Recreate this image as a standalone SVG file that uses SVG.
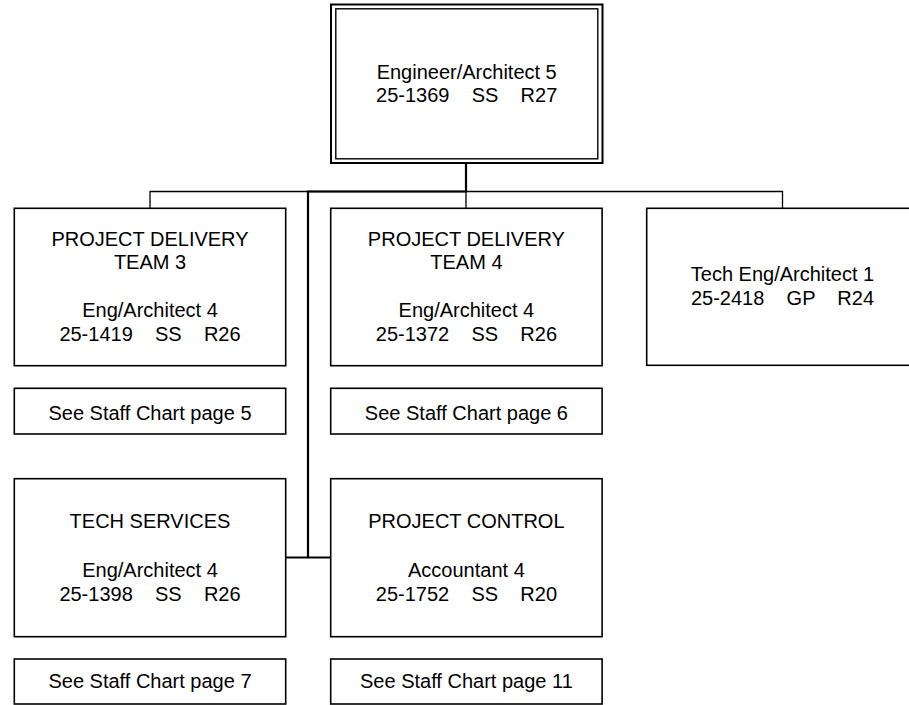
<svg xmlns="http://www.w3.org/2000/svg" width="909" height="705" viewBox="0 0 909 705">
<style>
.box{fill:#fff;stroke:#000;stroke-width:1.6}
.t{font-family:"Liberation Sans",Arial,sans-serif;font-size:20px;fill:#000;text-anchor:middle;white-space:pre}
.thin{fill:none;stroke:#000;stroke-width:1.3}
.thick{fill:none;stroke:#000;stroke-width:2.2}
</style>
<rect width="909" height="705" fill="#fff"/>
<g id="connectors">
<path class="thin" d="M150,191.5 H782.5 M150,191 V208.3 M466,191 V208.3 M782.5,191 V208.3"/>
<path class="thick" d="M466,163 V191.5 H308 V557.5"/>
<path class="thick" style="stroke-width:1.8" d="M285.7,557.5 H330.7"/>
</g>
<g id="top">
<rect class="box" x="331" y="4.5" width="271.5" height="158.5" style="stroke-width:2"/>
<rect class="box" x="335.8" y="8.8" width="262" height="150" style="stroke-width:1.4"/>
<text class="t" x="466.7" y="79" xml:space="preserve">Engineer/Architect 5</text>
<text class="t" x="466.7" y="101.7" xml:space="preserve">25-1369    SS    R27</text>
</g>
<g id="pdt3">
<rect class="box" x="14.3" y="208.3" width="271.4" height="157.4"/>
<text class="t" x="150" y="245.7" xml:space="preserve">PROJECT DELIVERY</text>
<text class="t" x="150" y="269.3" xml:space="preserve">TEAM 3</text>
<text class="t" x="150" y="316.7" xml:space="preserve">Eng/Architect 4</text>
<text class="t" x="150" y="341" xml:space="preserve">25-1419    SS    R26</text>
</g>
<g id="pdt3-note">
<rect class="box" x="14.3" y="388.3" width="271.4" height="45.7"/>
<text class="t" x="150" y="420" xml:space="preserve">See Staff Chart page 5</text>
</g>
<g id="pdt4">
<rect class="box" x="330.7" y="208.3" width="271.4" height="157.4"/>
<text class="t" x="466.4" y="245.7" xml:space="preserve">PROJECT DELIVERY</text>
<text class="t" x="466.4" y="269.3" xml:space="preserve">TEAM 4</text>
<text class="t" x="466.4" y="316.7" xml:space="preserve">Eng/Architect 4</text>
<text class="t" x="466.4" y="341" xml:space="preserve">25-1372    SS    R26</text>
</g>
<g id="pdt4-note">
<rect class="box" x="330.7" y="388.3" width="271.4" height="45.7"/>
<text class="t" x="466.4" y="420" xml:space="preserve">See Staff Chart page 6</text>
</g>
<g id="techeng">
<rect class="box" x="646.7" y="208.3" width="272" height="157"/>
<text class="t" x="782.5" y="281" xml:space="preserve">Tech Eng/Architect 1</text>
<text class="t" x="782.5" y="305" xml:space="preserve">25-2418    GP    R24</text>
</g>
<g id="techservices">
<rect class="box" x="14.3" y="478.7" width="271.4" height="158"/>
<text class="t" x="150" y="528.3" xml:space="preserve">TECH SERVICES</text>
<text class="t" x="150" y="576.7" xml:space="preserve">Eng/Architect 4</text>
<text class="t" x="150" y="601" xml:space="preserve">25-1398    SS    R26</text>
</g>
<g id="techservices-note">
<rect class="box" x="14.3" y="659" width="271.4" height="45"/>
<text class="t" x="150" y="688.3" xml:space="preserve">See Staff Chart page 7</text>
</g>
<g id="projectcontrol">
<rect class="box" x="330.7" y="478.7" width="271.4" height="158"/>
<text class="t" x="466.4" y="528.3" xml:space="preserve">PROJECT CONTROL</text>
<text class="t" x="466.4" y="576.7" xml:space="preserve">Accountant 4</text>
<text class="t" x="466.4" y="601" xml:space="preserve">25-1752    SS    R20</text>
</g>
<g id="projectcontrol-note">
<rect class="box" x="330.7" y="659" width="271.4" height="45"/>
<text class="t" x="466.4" y="688.3" xml:space="preserve">See Staff Chart page 11</text>
</g>
</svg>
